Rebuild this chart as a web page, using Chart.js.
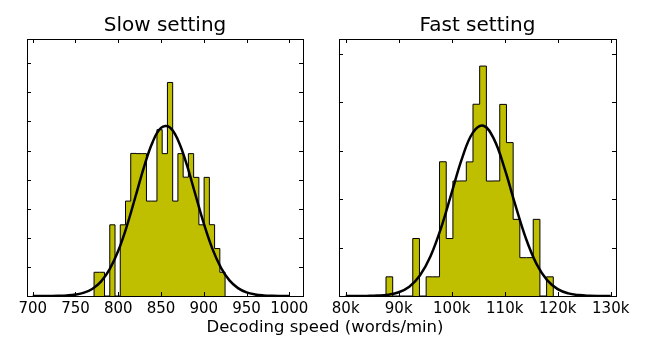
<!DOCTYPE html>
<html>
<head>
<meta charset="utf-8">
<script src="https://cdn.jsdelivr.net/npm/chart.js@4/dist/chart.umd.min.js"></script>
<style>
html, body { margin: 0; padding: 0; background: #fff; }
#wrap { position: relative; width: 650px; height: 350px; overflow: hidden; }
#wrap canvas { position: absolute; left: 0; top: 0; }
#xlabel { position: absolute; left: 0; width: 650px; top: 317px; text-align: center;
  font-family: 'DejaVu Sans', sans-serif; font-size: 16.5px; line-height: 20px; color: #000; white-space: nowrap; }
</style>
</head>
<body>
<div id="wrap">
  <canvas id="slow" width="650" height="350"></canvas>
  <canvas id="fast" width="650" height="350"></canvas>
  <div id="xlabel">Decoding speed (words/min)</div>
</div>
<script>
// ---------- data ----------
const sampleSize = 100;

const slowTitle = 'Slow setting';
const slowBinEdges = [771.70, 777.83, 783.96, 790.08, 796.21, 802.34, 808.47, 814.60, 820.72,
  826.85, 832.98, 839.11, 845.24, 851.36, 857.49, 863.62, 869.75, 875.88, 882.00, 888.13,
  894.26, 900.39, 906.52, 912.64, 918.77, 924.90];
const slowCounts = [1, 1, 0, 3, 0, 3, 4, 6, 6, 6, 4, 4, 7, 6, 9, 4, 6, 5, 6, 5, 3, 5, 3, 2, 1];
const slowCurveX = [700, 710, 720, 730, 740, 750, 760, 770, 780, 790, 800, 810, 820, 830, 840,
  850, 860, 870, 880, 890, 900, 910, 920, 930, 940, 950, 960, 970, 980, 990, 1000];
const slowCurveY = [0.0000004, 0.0000013, 0.0000043, 0.0000132, 0.0000374, 0.000097, 0.00023,
  0.000502, 0.001006, 0.001845, 0.003107, 0.004801, 0.006805, 0.008849, 0.010559, 0.011558,
  0.011608, 0.010696, 0.009043, 0.007013, 0.004991, 0.003258, 0.001951, 0.001073, 0.000541,
  0.00025, 0.000106, 0.0000413, 0.0000148, 0.0000048, 0.0000015];
const slowXTicks = [700, 750, 800, 850, 900, 950, 1000];
const slowXTickLabels = ['700', '750', '800', '850', '900', '950', '1000'];
const slowYTicks = [0, 0.002, 0.004, 0.006, 0.008, 0.010, 0.012, 0.014, 0.016];
const slowXRange = [693.3, 1016.0];
const slowYMax = 0.01767;

const fastTitle = 'Fast setting';
const fastBinEdges = [87604, 88867, 90129, 91392, 92654, 93917, 95180, 96442, 97705, 98967,
  100230, 101493, 102755, 104018, 105280, 106543, 107806, 109068, 110331, 111593, 112856,
  114119, 115381, 116644, 117906, 119169];
const fastCounts = [1, 0, 0, 0, 3, 0, 1, 1, 7, 3, 6, 6, 7, 10, 12, 6, 6, 10, 8, 4, 2, 2, 4, 0, 1];
const fastCurveX = [80000, 82000, 84000, 86000, 88000, 90000, 92000, 94000, 96000, 98000,
  100000, 102000, 104000, 106000, 108000, 110000, 112000, 114000, 116000, 118000, 120000,
  122000, 124000, 126000, 128000, 130000];
const fastCurveY = [0.0000000024, 0.0000000113, 0.0000000464, 0.000000169, 0.000000542,
  0.000001532, 0.000003828, 0.00000844, 0.00001642, 0.0000282, 0.00004275, 0.0000572,
  0.00006753, 0.00007037, 0.00006473, 0.00005254, 0.00003764, 0.0000238, 0.00001328,
  0.00000654, 0.000002844, 0.000001091, 0.000000369, 0.00000011, 0.000000029, 0.0000000068];
const fastXTicks = [80000, 90000, 100000, 110000, 120000, 130000];
const fastXTickLabels = ['80k', '90k', '100k', '110k', '120k', '130k'];
const fastYTicks = [0, 0.00002, 0.00004, 0.00006, 0.00008, 0.0001];
const fastXRange = [78736, 131000];
const fastYMax = 0.0001062;

// ---------- helpers ----------
Chart.defaults.font.family = "'DejaVu Sans', sans-serif";

function histPoints(edges, counts, n) {
  const pts = [{ x: edges[0], y: 0 }];
  counts.forEach((c, i) => pts.push({ x: edges[i], y: c / (n * (edges[i + 1] - edges[i])) }));
  pts.push({ x: edges[edges.length - 1], y: 0 });
  return pts;
}
function curvePoints(xs, ys) {
  return xs.map((x, i) => ({ x: x, y: ys[i] }));
}

const framePlugin = {
  id: 'frame',
  afterDatasetsDraw(chart, args, opts) {
    const { ctx, chartArea: a, scales } = chart;
    const L = 4;
    ctx.save();
    ctx.strokeStyle = '#000';
    ctx.lineWidth = 1;
    ctx.beginPath();
    opts.xTicks.forEach(v => {
      const px = Math.round(scales.x.getPixelForValue(v)) + 0.5;
      ctx.moveTo(px, a.bottom); ctx.lineTo(px, a.bottom - L);
      ctx.moveTo(px, a.top); ctx.lineTo(px, a.top + L);
    });
    opts.yTicks.forEach(v => {
      const py = Math.round(scales.y.getPixelForValue(v)) + 0.5;
      ctx.moveTo(a.left, py); ctx.lineTo(a.left + L, py);
      ctx.moveTo(a.right, py); ctx.lineTo(a.right - L, py);
    });
    ctx.stroke();
    ctx.strokeRect(a.left + 0.5, a.top + 0.5, a.right - a.left, a.bottom - a.top);
    ctx.restore();
  }
};

function makeChart(id, p) {
  return new Chart(document.getElementById(id), {
    type: 'line',
    data: {
      datasets: [
        { data: curvePoints(p.curveX, p.curveY), borderColor: '#000', borderWidth: 2.5,
          pointRadius: 0, tension: 0.4, fill: false, order: 0 },
        { data: histPoints(p.edges, p.counts, sampleSize), stepped: true, fill: 'origin',
          backgroundColor: '#bfbf00', borderColor: '#000', borderWidth: 1, pointRadius: 0, order: 1 }
      ]
    },
    options: {
      responsive: false,
      animation: false,
      events: [],
      layout: { padding: { left: p.left, right: 650 - p.right, top: 0, bottom: 0 } },
      plugins: {
        legend: { display: false },
        tooltip: { enabled: false },
        title: { display: true, text: p.title, color: '#000',
          font: { size: 20, weight: 'normal', lineHeight: '23px' },
          padding: { top: 14, bottom: 2 } },
        frame: { xTicks: p.xTicks, yTicks: p.yTicks }
      },
      scales: {
        x: {
          type: 'linear', min: p.xRange[0], max: p.xRange[1],
          grid: { display: false, drawTicks: false },
          border: { display: false },
          ticks: { color: '#000', font: { size: 15 }, padding: 4, autoSkip: false, maxRotation: 0,
            callback: v => p.xLabels[p.xTicks.indexOf(v)] },
          afterBuildTicks: s => { s.ticks = p.xTicks.map(v => ({ value: v })); },
          afterFit: s => { s.height = 54; }
        },
        y: { display: false, min: 0, max: p.yMax }
      }
    },
    plugins: [framePlugin]
  });
}

makeChart('slow', { title: slowTitle, edges: slowBinEdges, counts: slowCounts,
  curveX: slowCurveX, curveY: slowCurveY, xTicks: slowXTicks, xLabels: slowXTickLabels,
  yTicks: slowYTicks, xRange: slowXRange, yMax: slowYMax, left: 27, right: 303 });
makeChart('fast', { title: fastTitle, edges: fastBinEdges, counts: fastCounts,
  curveX: fastCurveX, curveY: fastCurveY, xTicks: fastXTicks, xLabels: fastXTickLabels,
  yTicks: fastYTicks, xRange: fastXRange, yMax: fastYMax, left: 339, right: 616 });
</script>
</body>
</html>
